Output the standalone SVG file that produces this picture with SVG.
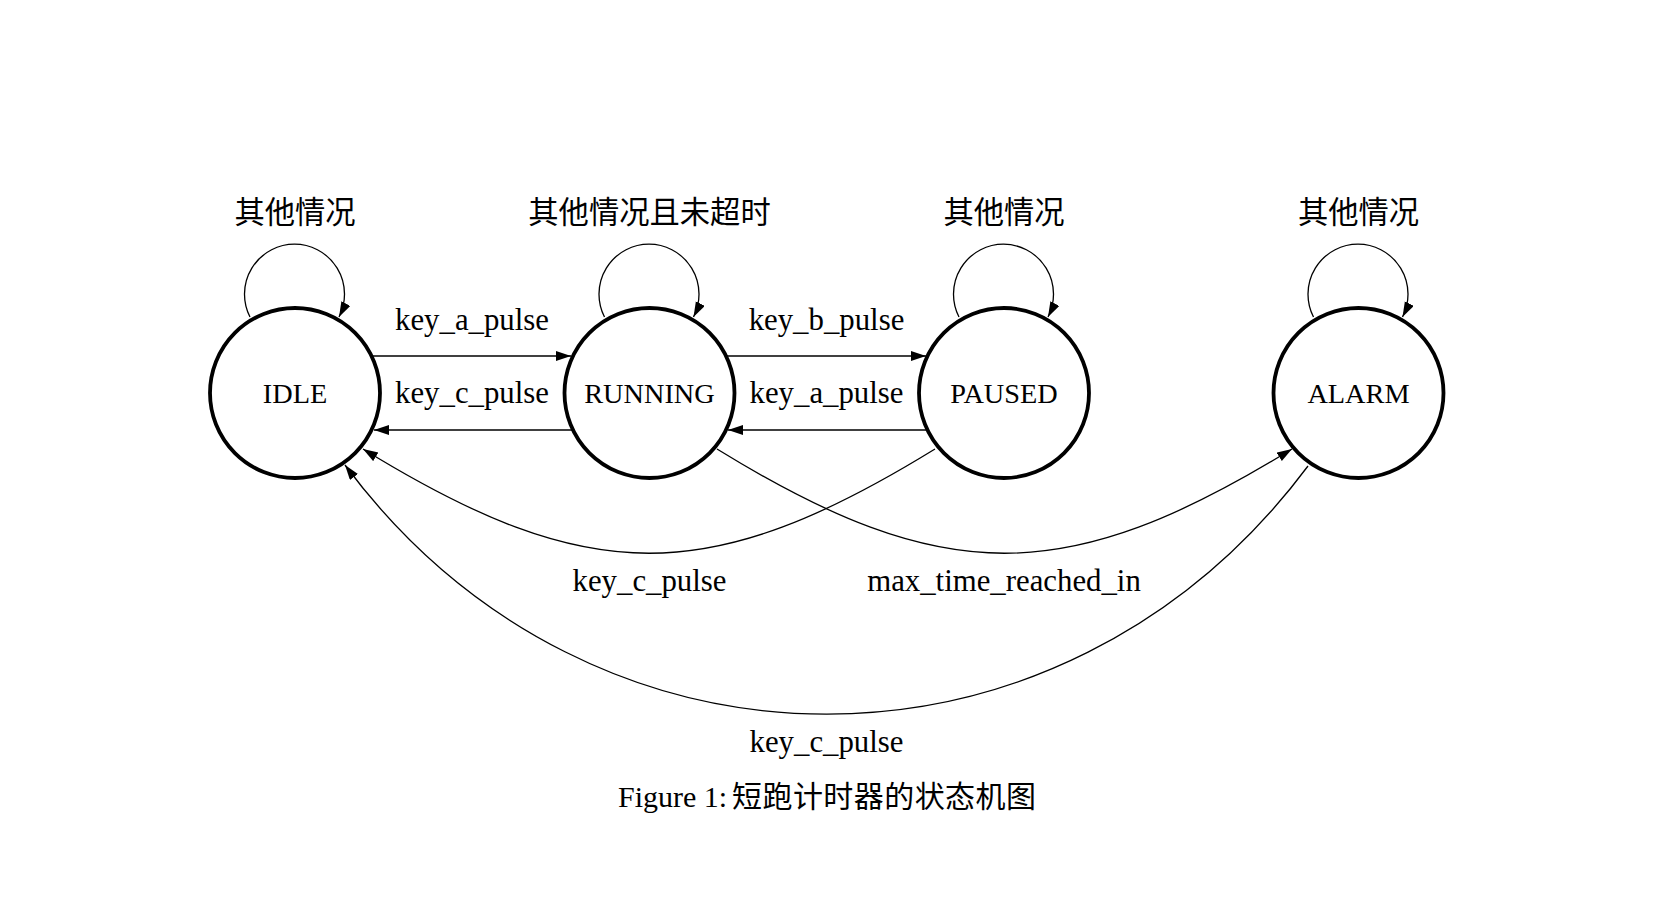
<svg xmlns="http://www.w3.org/2000/svg" width="1654" height="914" viewBox="0 0 1654 914">
<style>
.node{fill:#fff;stroke:#000;stroke-width:3.8}
.edge{fill:none;stroke:#000;stroke-width:1.3}
.lat{font-family:"Liberation Serif","Times New Roman",serif;fill:#000;text-anchor:middle}
.nl{font-size:28.3px}
.el{font-size:30.8px}
.cjk{font-family:"Noto Sans CJK SC","Noto Sans",sans-serif;font-size:30.3px;fill:#000;text-anchor:middle}
</style>
<defs>
<marker id="arr" markerUnits="userSpaceOnUse" markerWidth="16" markerHeight="11" refX="15" refY="5" orient="auto">
<path d="M0,0 L15,5 L0,10 z" fill="#000"/>
</marker>
</defs>
<rect width="1654" height="914" fill="#fff"/>
<g id="connectors">
<path class="edge" marker-end="url(#arr)" d="M250,317 A50,50 0 1 1 339,317"/>
<path class="edge" marker-end="url(#arr)" d="M604.5,317 A50,50 0 1 1 693.5,317"/>
<path class="edge" marker-end="url(#arr)" d="M959,317 A50,50 0 1 1 1048,317"/>
<path class="edge" marker-end="url(#arr)" d="M1313.5,317 A50,50 0 1 1 1402.5,317"/>
<path class="edge" marker-end="url(#arr)" d="M372,356 L571,356"/>
<path class="edge" marker-end="url(#arr)" d="M573,430 L374,430"/>
<path class="edge" marker-end="url(#arr)" d="M726,356 L926,356"/>
<path class="edge" marker-end="url(#arr)" d="M927,430 L728,430"/>
<path class="edge" marker-end="url(#arr)" d="M935,449 C709,588 589,588 363,449"/>
<path class="edge" marker-end="url(#arr)" d="M717,449 C943,588 1066,588 1292,449"/>
<path class="edge" marker-end="url(#arr)" d="M1308,466 C1061,797 592,797 345,465"/>
<text class="cjk" x="295" y="223">其他情况</text>
<text class="cjk" x="649.5" y="223">其他情况且未超时</text>
<text class="cjk" x="1004" y="223">其他情况</text>
<text class="cjk" x="1358.5" y="223">其他情况</text>
<text class="lat el" x="472" y="330">key_a_pulse</text>
<text class="lat el" x="472" y="403">key_c_pulse</text>
<text class="lat el" x="826.5" y="330">key_b_pulse</text>
<text class="lat el" x="826.5" y="403">key_a_pulse</text>
<text class="lat el" x="649.5" y="591">key_c_pulse</text>
<text class="lat el" x="1004" y="591">max_time_reached_in</text>
<text class="lat el" x="826.5" y="752">key_c_pulse</text>
</g>
<g id="IDLE">
<circle class="node" cx="295" cy="393" r="85"/>
<text class="lat nl" x="295" y="403">IDLE</text>
</g>
<g id="RUNNING">
<circle class="node" cx="649.5" cy="393" r="85"/>
<text class="lat nl" x="649.5" y="403">RUNNING</text>
</g>
<g id="PAUSED">
<circle class="node" cx="1004" cy="393" r="85"/>
<text class="lat nl" x="1004" y="403">PAUSED</text>
</g>
<g id="ALARM">
<circle class="node" cx="1358.5" cy="393" r="85"/>
<text class="lat nl" x="1358.5" y="403">ALARM</text>
</g>
<g id="caption">
<text x="618" y="807" style="font-family:'Liberation Serif','Times New Roman',serif;font-size:30px;fill:#000">Figure 1: <tspan x="732" textLength="304" lengthAdjust="spacing" style="font-family:'Noto Sans CJK SC','Noto Sans',sans-serif;font-size:30px">短跑计时器的状态机图</tspan></text>
</g>
</svg>
